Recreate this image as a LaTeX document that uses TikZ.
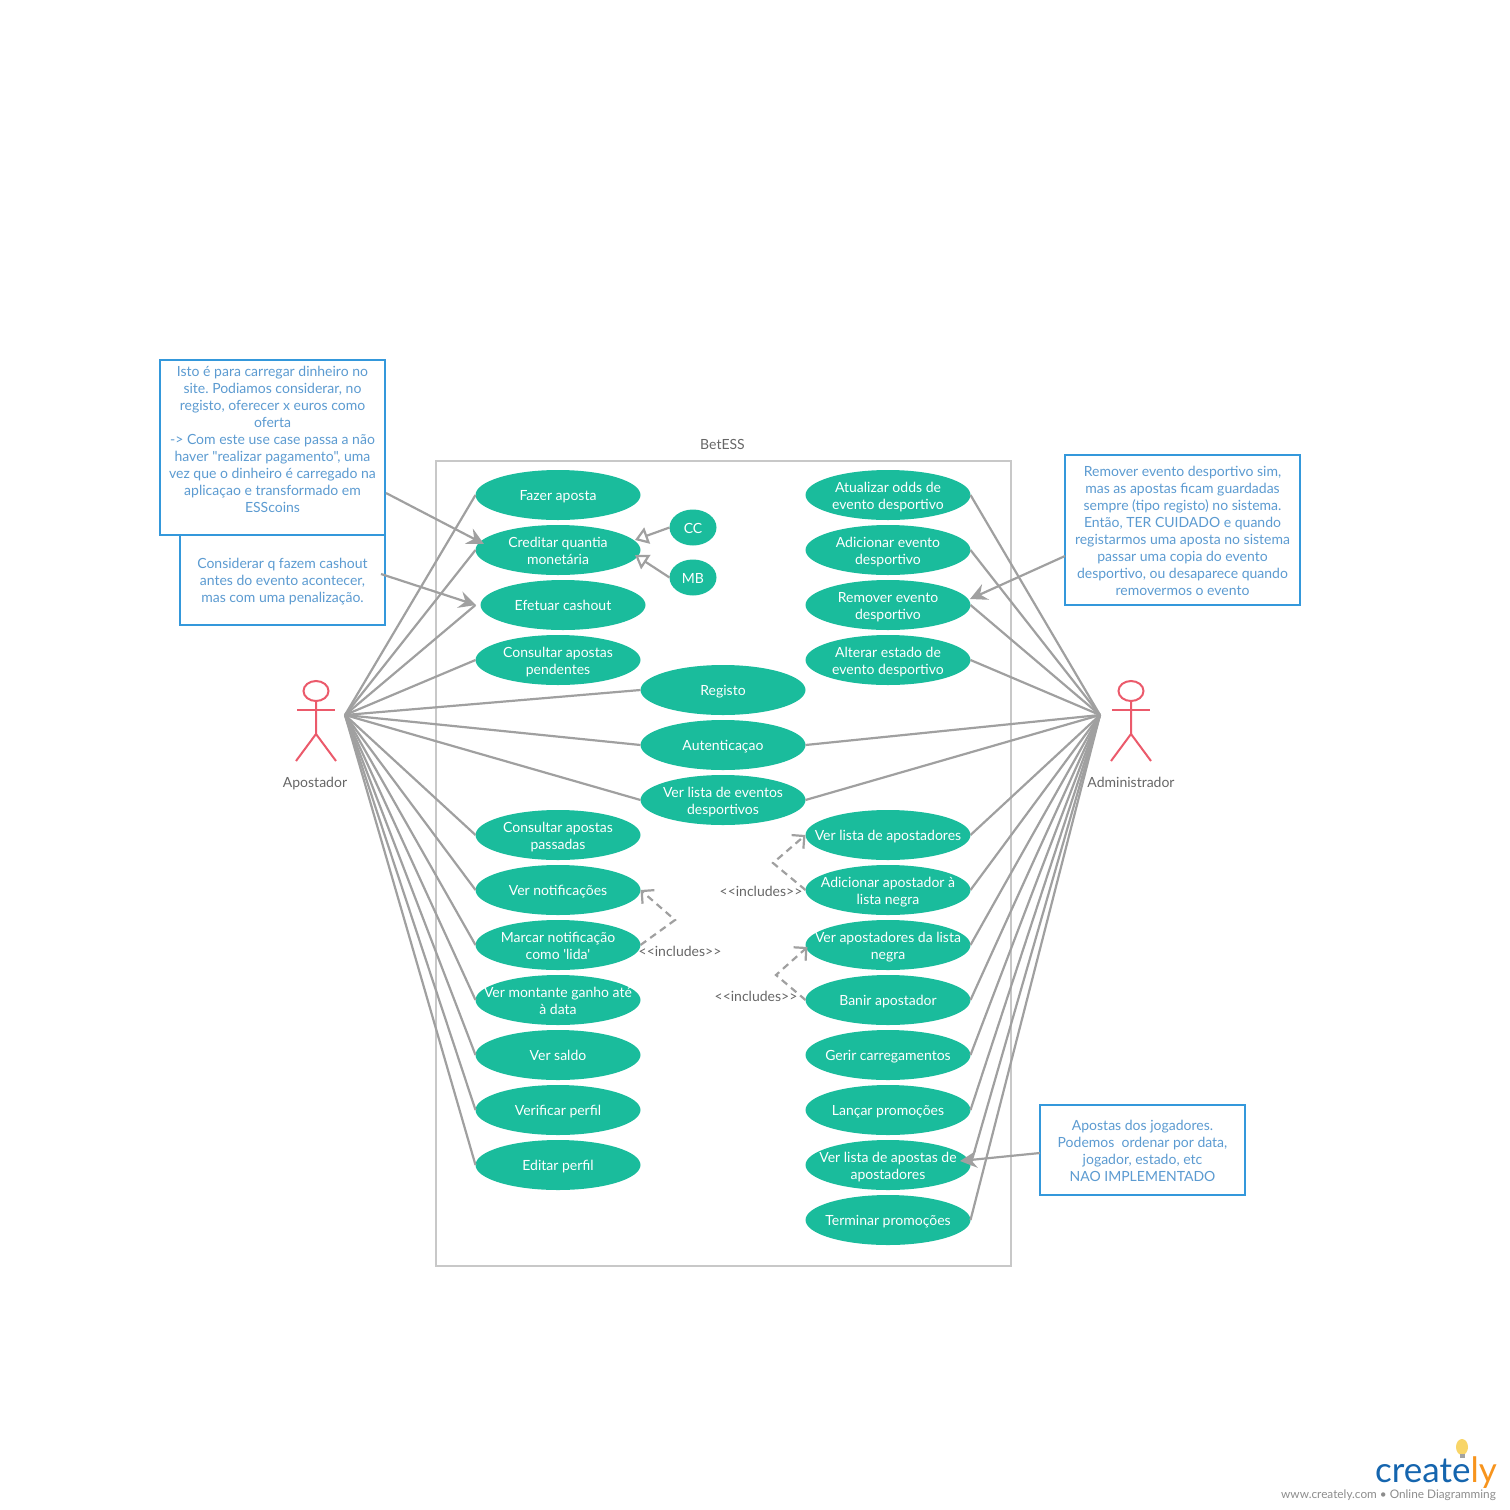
\documentclass[tikz,border=0pt]{standalone}
\usepackage{fontspec}
\setmainfont{Lato}[Ligatures=TeXOff]
\usetikzlibrary{arrows.meta,shapes.geometric}
\definecolor{ucgreen}{HTML}{1ABC9C}
\definecolor{linegrey}{HTML}{A0A0A0}
\definecolor{framegrey}{HTML}{C8C8C8}
\definecolor{notelinecol}{HTML}{3498DB}
\definecolor{notetextcol}{HTML}{5C9BD1}
\definecolor{actorred}{HTML}{EB5A6B}
\definecolor{labelgrey}{HTML}{666666}
\definecolor{logoblue}{HTML}{1565AE}
\definecolor{logoorange}{HTML}{F7941D}
\definecolor{logobulb}{HTML}{F8D568}
\frenchspacing
\begin{document}
\begin{tikzpicture}[x=1pt,y=-1pt]

\def\colL{558}
\def\colM{723}
\def\colR{888}

\tikzset{boxh/.style = {execute at begin node=\rule[-3pt]{0pt}{#1}}}
\tikzset{usecase/.style = {ellipse, fill=ucgreen, text=white, font=\fontsize{14}{17}\selectfont, align=center, boxh=17pt, minimum width=165pt, minimum height=50pt, inner xsep=-60pt, inner ysep=-10pt, outer sep=0pt}}
\tikzset{usecasetwo/.style = {usecase, boxh=34pt}}
\tikzset{subcase/.style = {usecase, minimum width=47pt, minimum height=36pt}}
\tikzset{note/.style = {draw=notelinecol, line width=2pt, fill=white, text=notetextcol, font=\fontsize{14}{17}\selectfont, align=center, inner sep=0pt, outer sep=0pt}}
\tikzset{plain/.style = {text=labelgrey, font=\fontsize{14}{17}\selectfont, boxh=17pt, inner sep=0pt}}
\tikzset{link/.style = {draw=linegrey, line width=2.2pt}}
\tikzset{callout/.style = {link, -{Stealth[length=17pt,width=17pt,inset=6pt]}}}
\tikzset{inherit/.style = {link, -{Triangle[open,length=13pt,width=17pt,fill=white]}}}
\tikzset{incl/.style = {link, dashed, dash pattern=on 7pt off 5pt, -{Straight Barb[length=9pt,width=18pt]}}}
\tikzset{actorpart/.style = {draw=actorred, line width=2pt}}

\useasboundingbox (0,0) rectangle (1510,1510);

% system frame
\node (frame) [draw=framegrey, line width=2pt, minimum width=575pt, minimum height=805pt, inner sep=0pt] at (723.5,863.5) {};
\node (title) [plain] at (722.5,444) {BetESS};

% left column
\node (a1) [usecase] at (\colL,495) {Fazer aposta};
\node (a2) [usecasetwo] at (\colL,550) {Creditar quantia\\monetária};
\node (a3) [usecase] at (563,605) {Efetuar cashout};
\node (a4) [usecasetwo] at (\colL,660) {Consultar apostas\\pendentes};
\node (a5) [usecasetwo] at (\colL,835) {Consultar apostas\\passadas};
\node (a6) [usecase] at (\colL,890) {Ver notificações};
\node (a7) [usecasetwo] at (\colL,945) {Marcar notificação\\como 'lida'};
\node (a8) [usecasetwo] at (\colL,1000) {Ver montante ganho até\\à data};
\node (a9) [usecase] at (\colL,1055) {Ver saldo};
\node (a10) [usecase] at (\colL,1110) {Verificar perfil};
\node (a11) [usecase] at (\colL,1165) {Editar perfil};

\node (cc) [subcase] at (693,527.5) {CC};
\node (mb) [subcase] at (693,577.5) {MB};

% middle column
\node (m1) [usecase] at (\colM,690) {Registo};
\node (m2) [usecase] at (\colM,745) {Autenticaçao};
\node (m3) [usecasetwo] at (\colM,800) {Ver lista de eventos\\desportivos};

% right column
\node (b1) [usecasetwo] at (\colR,495) {Atualizar odds de\\evento desportivo};
\node (b2) [usecasetwo] at (\colR,550) {Adicionar evento\\desportivo};
\node (b3) [usecasetwo] at (\colR,605) {Remover evento\\desportivo};
\node (b4) [usecasetwo] at (\colR,660) {Alterar estado de\\evento desportivo};
\node (b5) [usecase] at (\colR,835) {Ver lista de apostadores};
\node (b6) [usecasetwo] at (\colR,890) {Adicionar apostador à\\lista negra};
\node (b7) [usecasetwo] at (\colR,945) {Ver apostadores da lista\\negra};
\node (b8) [usecase] at (\colR,1000) {Banir apostador};
\node (b9) [usecase] at (\colR,1055) {Gerir carregamentos};
\node (b10) [usecase] at (\colR,1110) {Lançar promoções};
\node (b11) [usecasetwo] at (\colR,1165) {Ver lista de apostas de\\apostadores};
\node (b12) [usecase] at (\colR,1220) {Terminar promoções};

% actors
\node (headL) [actorpart, ellipse, minimum width=25pt, minimum height=20pt, inner sep=0pt] at (316,691) {};
\draw [actorpart] (headL.south) -- (316,734) -- (296,761);
\draw [actorpart] (316,734) -- (336,761);
\draw [actorpart] (297,710) -- (335,710);
\node (nameL) [plain] at (315,782) {Apostador};
\coordinate (actL) at (345,715);

\node (headR) [actorpart, ellipse, minimum width=25pt, minimum height=20pt, inner sep=0pt] at (1131,691) {};
\draw [actorpart] (headR.south) -- (1131,734) -- (1111,761);
\draw [actorpart] (1131,734) -- (1151,761);
\draw [actorpart] (1112,710) -- (1150,710);
\node (nameR) [plain] at (1131,782) {Administrador};
\coordinate (actR) at (1100,715);

% actor links
\draw [link] (actL) -- (a1.west);
\draw [link] (actL) -- (a2.west);
\draw [link] (actL) -- ([xshift=-5pt]a3.west);
\draw [link] (actL) -- (a4.west);
\draw [link] (actL) -- (m1.west);
\draw [link] (actL) -- (m2.west);
\draw [link] (actL) -- (m3.west);
\draw [link] (actL) -- (a5.west);
\draw [link] (actL) -- (a6.west);
\draw [link] (actL) -- (a7.west);
\draw [link] (actL) -- (a8.west);
\draw [link] (actL) -- (a9.west);
\draw [link] (actL) -- (a10.west);
\draw [link] (actL) -- (a11.west);

\draw [link] (actR) -- (b1.east);
\draw [link] (actR) -- (b2.east);
\draw [link] (actR) -- (b3.east);
\draw [link] (actR) -- (b4.east);
\draw [link] (actR) -- (m2.east);
\draw [link] (actR) -- (m3.east);
\draw [link] (actR) -- (b5.east);
\draw [link] (actR) -- (b6.east);
\draw [link] (actR) -- (b7.east);
\draw [link] (actR) -- (b8.east);
\draw [link] (actR) -- (b9.east);
\draw [link] (actR) -- (b10.east);
\draw [link] (actR) -- (b11.east);
\draw [link] (actR) -- (b12.east);

% generalisation
\coordinate (a2up) at (635,540);
\coordinate (a2down) at (635,555);
\draw [inherit] (cc.west) -- (a2up);
\draw [inherit] (mb.west) -- (a2down);

% includes
\coordinate (bendA) at (675,920);
\coordinate (bendB) at (773,863);
\coordinate (bendC) at (776,975);
\draw [incl] (a7.east) -- (bendA) -- (a6.east);
\draw [incl] (b6.west) -- (bendB) -- (b5.west);
\draw [incl] (b8.west) -- (bendC) -- ([xshift=2pt,yshift=-2pt]b7.west);
\node (inclA) [plain] at (680,951) {<<includes>>};
\node (inclB) [plain] at (761,891) {<<includes>>};
\node (inclC) [plain] at (756,996) {<<includes>>};

% notes
\node (note2) [note, boxh=51pt, minimum width=205pt, minimum height=90pt] at (282.5,580) {Considerar q fazem cashout\\antes do evento acontecer,\\mas com uma penalização.};
\node (note1) [note, boxh=170pt, minimum width=225pt, minimum height=175pt] at (272.5,447.5) {Isto é para carregar dinheiro no\\site. Podiamos considerar, no\\registo, oferecer x euros como\\oferta\\-> Com este use case passa a não\\haver "realizar pagamento", uma\\vez que o dinheiro é carregado na\\aplicaçao e transformado em\\ESScoins\\\mbox{}};
\node (note3) [note, boxh=136pt, minimum width=235pt, minimum height=150pt] at (1182.5,530) {Remover evento desportivo sim,\\mas as apostas ficam guardadas\\sempre (tipo registo) no sistema.\\Então, TER CUIDADO e quando\\registarmos uma aposta no sistema\\passar uma copia do evento\\desportivo, ou desaparece quando\\removermos o evento};
\node (note4) [note, boxh=68pt, minimum width=205pt, minimum height=90pt] at (1142.5,1150) {Apostas dos jogadores.\\Podemos\ \ ordenar por data,\\jogador, estado, etc\\NAO IMPLEMENTADO};

\coordinate (out1) at (386,493);
\coordinate (out2) at (381,574);
\coordinate (out3) at (1065,556);
\coordinate (out4) at (1040,1153);
\coordinate (tip1) at (484,544);
\coordinate (tip2) at (476,605);
\coordinate (tip3) at (970,599);
\coordinate (tip4) at (960,1161);
\draw [callout] (out1) -- (tip1);
\draw [callout] (out2) -- (tip2);
\draw [callout] (out3) -- (tip3);
\draw [callout] (out4) -- (tip4);

% logo
\fill [logobulb] (1462,1447) ellipse (6pt and 8pt);
\fill [labelgrey!60] (1459.5,1454) rectangle (1464.5,1458);
\node (logo) [anchor=base east, inner sep=0pt, font=\fontsize{35}{36}\selectfont] at (1497,1482) {\textcolor{logoblue}{create}\textcolor{logoorange}{ly}};
\node (site) [anchor=base east, inner sep=0pt, text=labelgrey!75, font=\fontsize{11.8}{14}\selectfont] at (1496,1498) {www.creately.com • Online Diagramming};

\end{tikzpicture}
\end{document}
